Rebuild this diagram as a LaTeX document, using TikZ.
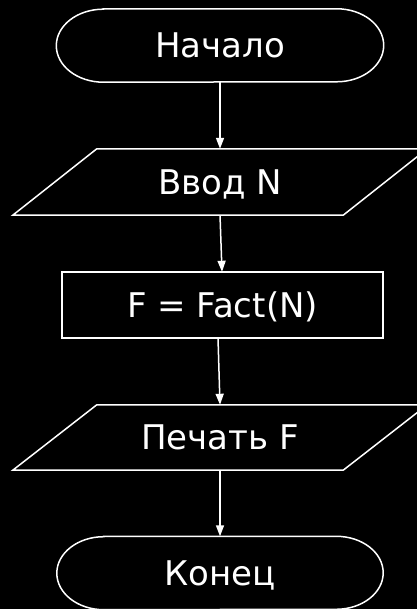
\documentclass[tikz,border=0pt]{standalone}
\usepackage{fontspec}
\setmainfont{DejaVu Sans}
\usetikzlibrary{arrows.meta}
\begin{document}
\begin{tikzpicture}[x=1pt,y=1pt,
  lbl/.style={text=white,font=\fontsize{34}{38}\selectfont,inner sep=0pt,
    text height=24.8pt,text depth=0pt},
  outline/.style={draw=white,line width=1.5pt},
  conn/.style={draw=white,line width=1.5pt,-{Triangle[width=8pt,length=11pt]}}]
\fill[black] (0,0) rectangle (417,609);
\useasboundingbox (0,0) rectangle (417,609);
\clip (0,0) rectangle (417,609);
% nodes (invisible boxes), outlines drawn separately
\node[lbl,minimum width=327pt,minimum height=73pt] (start) at (220,563.5) {Начало};
\node[lbl,minimum width=246pt,minimum height=66pt] (in1) at (220,427) {Ввод N};
\node[lbl,minimum width=321pt,minimum height=66pt] (proc) at (222.5,304) {F = Fact(N)};
\node[lbl,minimum width=246pt,minimum height=65pt] (out1) at (220,171.5) {Печать F};
\node[lbl,minimum width=326pt,minimum height=73pt] (end) at (220,36) {Конец};
% terminal outlines with elliptical ends
\draw[outline] ([xshift=47pt]start.north west) -- ([xshift=-47pt]start.north east)
  arc[start angle=90,end angle=-90,x radius=47pt,y radius=36.5pt]
  -- ([xshift=47pt]start.south west)
  arc[start angle=270,end angle=90,x radius=47pt,y radius=36.5pt] -- cycle;
\draw[outline] ([xshift=47pt]end.north west) -- ([xshift=-47pt]end.north east)
  arc[start angle=90,end angle=-90,x radius=47pt,y radius=36.5pt]
  -- ([xshift=47pt]end.south west)
  arc[start angle=270,end angle=90,x radius=47pt,y radius=36.5pt] -- cycle;
% parallelograms
\draw[outline] ([xshift=-84pt]in1.south west) -- (in1.south east)
  -- ([xshift=84pt]in1.north east) -- (in1.north west) -- cycle;
\draw[outline] ([xshift=-84pt]out1.south west) -- (out1.south east)
  -- ([xshift=84pt]out1.north east) -- (out1.north west) -- cycle;
% process box
\draw[outline] (proc.south west) rectangle (proc.north east);
% connectors
\draw[conn] (start.south) -- (in1.north -| start.south);
\draw[conn] (in1.south) -- ([xshift=2pt]proc.north -| in1.south);
\draw[conn] ([xshift=-2pt]proc.south -| out1.north) -- (out1.north);
\draw[conn] (out1.south) -- (end.north);
\end{tikzpicture}
\end{document}
